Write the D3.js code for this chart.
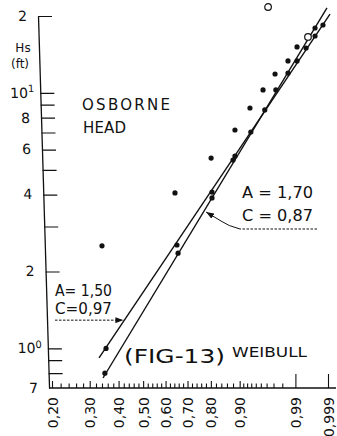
<!DOCTYPE html>
<html><head><meta charset="utf-8">
<script src="https://cdn.jsdelivr.net/npm/d3@7"></script>
<style>
html,body{margin:0;padding:0;background:#fff;}
svg{display:block;}
text{font-family:"DejaVu Sans",sans-serif;fill:#111;}
</style></head><body>
<svg id="chart" width="337" height="436"></svg>
<script>
// ---------- data ----------
const probTicks  = [0.20, 0.30, 0.40, 0.50, 0.60, 0.70, 0.80, 0.90, 0.99, 0.999];
const probLabels = ["0,20","0,30","0,40","0,50","0,60","0,70","0,80","0,90","0,99","0,999"];
const probMinor  = [0.22,0.24,0.26,0.28,0.32,0.34,0.36,0.38,0.42,0.44,0.46,0.48,
                    0.52,0.54,0.56,0.58,0.62,0.64,0.66,0.68,0.72,0.74,0.76,0.78,
                    0.82,0.84,0.86,0.88,0.91,0.92,0.93,0.94,0.95,0.96,0.97,0.98];
const hsTicks       = [200,100,90,80,70,60,50,40,30,20,10,9,8,7];
const hsLabelValues = [200,100,80,60,40,20,10,7];
const hsLabelBase   = ["2","10","8","6","4","2","10","7"];
const hsLabelSup    = ["","1","","","","","0",""];

// points lying on the fitted lines (filled)
const onLineP = [0.350,0.354,0.652,0.657,0.8045,0.8045,0.886,0.880,0.929,0.957,0.973,0.985,0.9909,0.9948,0.9972,0.9972,0.99848];
const onLineH = [8.0, 10.0, 25.4, 23.6, 40.9, 38.8, 56.6, 54.6, 70.3, 85.8, 102.7,119.6,133.4, 149.9, 167.0, 179.5, 184.4];
// points plotted above the lines (filled)
const offLineP = [0.340,0.643,0.801,0.886,0.927,0.954,0.972,0.985,0.9909];
const offLineH = [25.2, 40.6, 55.6, 71.6, 87.3, 102.7,118.6,133.4,151.3];
// open circles
const openP = [0.9623, 0.99542];
const openH = [216.9, 165.6];
// fitted Weibull lines (end points)
const line1P = [0.330, 0.99916], line1H = [9.18, 203.6]; // A=1,50  C=0,97
const line2P = [0.3435, 0.99891], line2H = [7.66, 215.0]; // A=1,70  C=0,87
const arrow1H = 12.9, arrow2H = 34.5;

// ---------- scales ----------
const weib = p => Math.log(-Math.log(1 - p));
const x = d3.scaleLinear().domain([weib(0.20), weib(0.999)]).range([52, 328]);
const y = d3.scaleLog().domain([7, 200]).range([388, 16]);
const px = p => x(weib(p));

const svg = d3.select("#chart");
const ink = "#111";

// arrow marker
svg.append("defs").append("marker")
  .attr("id","arr").attr("viewBox","0 0 8 6").attr("refX",8).attr("refY",3)
  .attr("markerWidth",8).attr("markerHeight",6).attr("markerUnits","userSpaceOnUse")
  .attr("orient","auto")
  .append("path").attr("d","M0,0L8,3L0,6Z").attr("fill",ink);

// ---------- y axis (slightly skewed like the scan) ----------
const skewDeg = 1.7, k = Math.tan(skewDeg*Math.PI/180);
const yAxisG = svg.append("g")
  .attr("transform", `translate(${38 - k*16},0) skewX(${skewDeg})`);
const yAxis = d3.axisLeft(y).tickValues(hsTicks).tickSizeInner(-14).tickSizeOuter(0)
  .tickPadding(11).tickFormat(() => "");
yAxisG.call(yAxis);
yAxisG.select(".domain").attr("stroke", ink).attr("stroke-width", 1.3);
yAxisG.selectAll(".tick line").attr("stroke", ink).attr("stroke-width", 1.2)
  .filter(d => d === 7).remove();
hsLabelValues.forEach((v, i) => {
  const t = yAxisG.append("text")
    .attr("x", hsLabelSup[i] ? -6 : -11).attr("y", y(v)).attr("dy","0.35em")
    .attr("text-anchor","end").attr("font-size", 14).text(hsLabelBase[i]);
  if (hsLabelSup[i]) {
    t.append("tspan").attr("font-size", 10).attr("dy","-0.55em").text(hsLabelSup[i]);
  }
});

// y title
svg.append("text").attr("x",23).attr("y",52).attr("text-anchor","middle")
  .attr("font-size",12).text("Hs");
svg.append("text").attr("x",20).attr("y",68).attr("text-anchor","middle")
  .attr("font-size",12).text("(ft)");

// ---------- x axis ----------
const xAxisG = svg.append("g").attr("transform", `translate(0,${y(7)})`);
xAxisG.append("line").attr("x1", 49).attr("x2", 336).attr("y1",0).attr("y2",0)
  .attr("stroke", ink).attr("stroke-width", 1.3);
const minorAxis = d3.axisBottom(x).tickValues(probMinor.map(weib))
  .tickSizeInner(-4.5).tickSizeOuter(0).tickFormat(() => "");
const minorG = xAxisG.append("g").call(minorAxis);
minorG.select(".domain").remove();
minorG.selectAll(".tick line").attr("stroke", ink).attr("stroke-width", 1.1);

const majorAxis = d3.axisBottom(x).tickValues(probTicks.map(weib))
  .tickSizeInner(-8).tickSizeOuter(0).tickFormat(() => "");
const majorG = xAxisG.append("g").call(majorAxis);
majorG.select(".domain").remove();
majorG.selectAll(".tick line").attr("stroke", ink).attr("stroke-width", 1.1)
  .attr("y2", (d, i) => probTicks[i] >= 0.99 ? -14 : -7);
majorG.selectAll(".tick").append("text")
  .attr("transform","rotate(-90)")
  .attr("x", -9).attr("y", 0).attr("dy","0.36em")
  .attr("text-anchor","end").attr("font-size", 14)
  .text((d, i) => probLabels[i]);

// ---------- fitted lines ----------
const lineGen = d3.line().x(d => px(d[0])).y(d => y(d[1]));
[[line1P,line1H],[line2P,line2H]].forEach(([P,H]) => {
  svg.append("path").datum(P.map((p,i)=>[p,H[i]])).attr("d", lineGen)
    .attr("fill","none").attr("stroke", ink).attr("stroke-width", 1.4);
});
function onLine(P, H, h) {
  const w0 = weib(P[0]), w1 = weib(P[1]);
  const t = (Math.log(h) - Math.log(H[0])) / (Math.log(H[1]) - Math.log(H[0]));
  return [x(w0 + t*(w1 - w0)), y(h)];
}

// ---------- points ----------
svg.append("g").selectAll("circle").data(onLineP.map((p,i)=>[p,onLineH[i]]))
  .join("circle").attr("cx", d => px(d[0])).attr("cy", d => y(d[1])).attr("r", 2.6)
  .attr("fill", ink);
svg.append("g").selectAll("circle").data(offLineP.map((p,i)=>[p,offLineH[i]]))
  .join("circle").attr("cx", d => px(d[0])).attr("cy", d => y(d[1])).attr("r", 2.6)
  .attr("fill", ink);
svg.append("g").selectAll("circle").data(openP.map((p,i)=>[p,openH[i]]))
  .join("circle").attr("cx", d => px(d[0])).attr("cy", d => y(d[1])).attr("r", 3.3)
  .attr("fill", "#fff").attr("stroke", ink).attr("stroke-width", 1.2);

// ---------- annotations ----------
const a1 = onLine(line1P, line1H, arrow1H);
svg.append("path").attr("d", `M55,${a1[1]}L${a1[0]-1},${a1[1]}`)
  .attr("fill","none").attr("stroke", ink).attr("stroke-width", 1)
  .attr("stroke-dasharray","2.5,1.5").attr("marker-end","url(#arr)");
const a2 = onLine(line2P, line2H, arrow2H);
svg.append("path").attr("d", `M317,229L240,229`)
  .attr("fill","none").attr("stroke", ink).attr("stroke-width", 1)
  .attr("stroke-dasharray","2.5,1.5");
svg.append("path").attr("d", `M240,229Q228,226 221,221L${a2[0]+2},${a2[1]+1}`)
  .attr("fill","none").attr("stroke", ink).attr("stroke-width", 1)
  .attr("marker-end","url(#arr)");

const txt = (s, xx, yy, size, len, adj) => svg.append("text").attr("x", xx).attr("y", yy)
  .attr("font-size", size).attr("textLength", len)
  .attr("lengthAdjust", adj || "spacingAndGlyphs").text(s);
txt("OSBORNE", 82, 110, 15, 88, "spacing");
txt("HEAD", 83, 133, 15, 43, "spacing");
txt("A = 1,70", 242, 198, 15, 71);
txt("C = 0,87", 242, 221, 15, 71);
txt("A= 1,50", 55, 296, 15, 57);
txt("C=0,97", 55, 314, 15, 57);
txt("(FIG-13)", 124, 363, 19, 101);
txt("WEIBULL", 232, 357, 14, 75);
</script>
</body></html>
